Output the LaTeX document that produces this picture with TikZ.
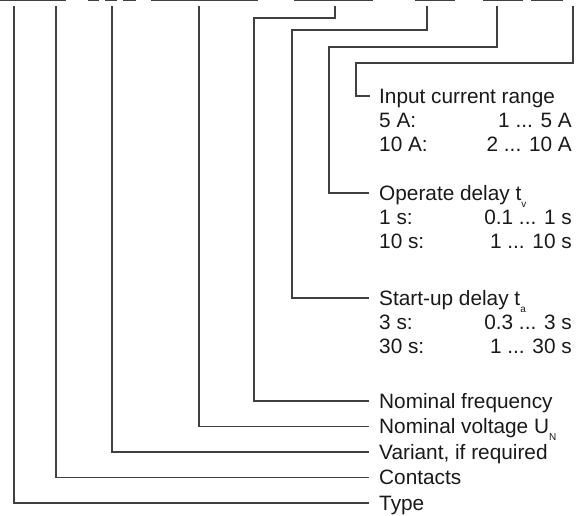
\documentclass[tikz,border=0pt]{standalone}
\usepackage{fontspec}
\setmainfont{Liberation Sans}
\begin{document}
\begin{tikzpicture}[x=1pt,y=-1pt,
  ln/.style={draw=black!75,line width=1.1pt},
  topseg/.style={draw=black!75,line width=1.6pt},
  lbl/.style={inner sep=0pt,anchor=west,text height=14.9pt,text depth=0pt,text=black!90,
    font=\fontsize{20.8}{24}\selectfont},
  val/.style={lbl,anchor=east},
  hook/.style={ln,shorten >=10.5pt}
]
\useasboundingbox (0,0) rectangle (583,516);
\newcommand{\lowsub}[1]{\raisebox{-0.32em}{\fontsize{10}{10}\selectfont #1}}
% top designation segments
\draw[topseg] (0,0.6) -- (66,0.6);
\draw[topseg] (88,0.6) -- (99,0.6);
\draw[topseg] (105,0.6) -- (117,0.6);
\draw[topseg] (123,0.6) -- (136,0.6);
\draw[topseg] (151,0.6) -- (258,0.6);
\draw[topseg] (294,0.6) -- (373,0.6);
\draw[topseg] (415,0.6) -- (455,0.6);
\draw[topseg] (483,0.6) -- (523,0.6);
\draw[topseg] (531,0.6) -- (563,0.6);
% top coordinates
\coordinate (tType) at (14,6);
\coordinate (tCont) at (56,6);
\coordinate (tVar) at (112,6);
\coordinate (tVolt) at (199,6);
\coordinate (tFreq) at (335,6);
\coordinate (tStart) at (427,6);
\coordinate (tOper) at (497,6);
\coordinate (tInput) at (573,6);
% labels
\node[lbl] (input) at (379,96) {Input current range};
\node[lbl] (i5l) at (379,120) {5 A:};
\node[val] (i5r) at (572,120) {1 ... 5 A};
\node[lbl] (i10l) at (379,144) {10 A:};
\node[val] (i10r) at (572,144) {2 ... 10 A};
\node[lbl] (oper) at (379,193) {Operate delay t\lowsub{v}};
\node[lbl] (o1l) at (379,217) {1 s:};
\node[val] (o1r) at (572,217) {0.1 ... 1 s};
\node[lbl] (o10l) at (379,241) {10 s:};
\node[val] (o10r) at (572,241) {1 ... 10 s};
\node[lbl] (start) at (379,298) {Start-up delay t\lowsub{a}};
\node[lbl] (s3l) at (379,322) {3 s:};
\node[val] (s3r) at (572,322) {0.3 ... 3 s};
\node[lbl] (s30l) at (379,346) {30 s:};
\node[val] (s30r) at (572,346) {1 ... 30 s};
\node[lbl] (freq) at (379,401) {Nominal frequency};
\node[lbl] (volt) at (379,426.5) {Nominal voltage U\lowsub{N}};
\node[lbl] (var) at (379,452) {Variant, if required};
\node[lbl] (cont) at (379,477.5) {Contacts};
\node[lbl] (type) at (379,503) {Type};
% connectors
\draw[hook] (tType) |- (type.west);
\draw[hook] (tCont) |- (cont.west);
\draw[hook] (tVar) |- (var.west);
\draw[hook] (tVolt) |- (volt.west);
\draw[hook] (tFreq) |- (254,18) |- (freq.west);
\draw[hook] (tStart) |- (292,30) |- (start.west);
\draw[hook] (tOper) |- (329,47) |- (oper.west);
\draw[ln,shorten >=9pt] (tInput) |- (356,63) |- (input.west);
\end{tikzpicture}
\end{document}
